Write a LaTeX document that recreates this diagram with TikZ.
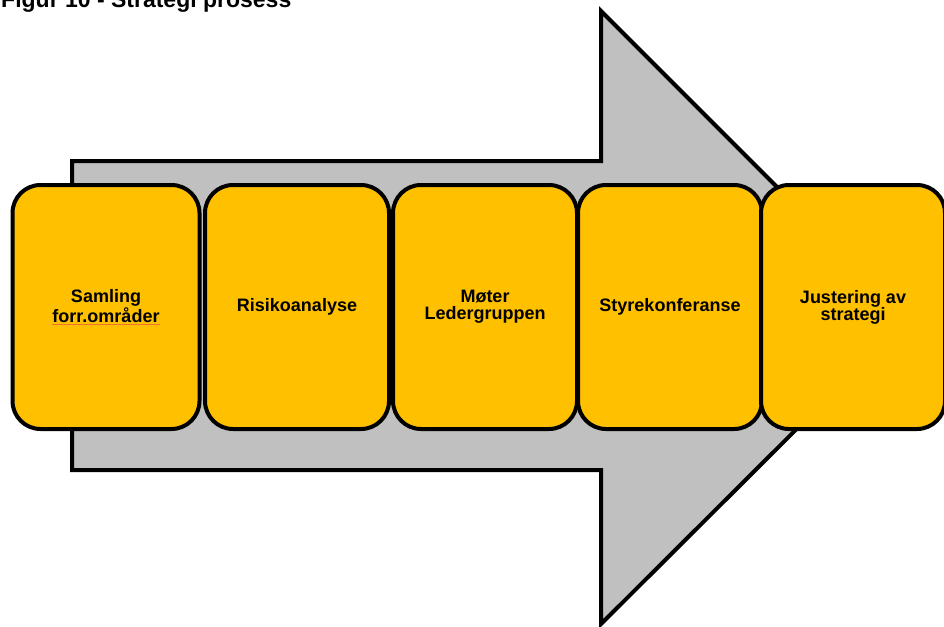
\documentclass[tikz,border=0pt]{standalone}
\usepackage{fontspec}
\setmainfont{Liberation Sans}
\definecolor{stepfill}{HTML}{FFC000}
\definecolor{arrowfill}{HTML}{C0C0C0}
\definecolor{spellred}{HTML}{F07030}
\newcommand{\spellmark}[1]{{\color{spellred}\underline{\color{black}#1}}}
\begin{document}
\begin{tikzpicture}[x=1pt,y=-1pt,font=\bfseries\fontsize{18}{17}\selectfont,
  st/.style={draw,line width=4pt,rounded corners=28pt,fill=stepfill,minimum width=184pt,minimum height=244pt,align=center,inner sep=2pt}]
  \useasboundingbox (0,0) rectangle (944,626);
  \node[anchor=base west,inner sep=0pt,font=\bfseries\fontsize{23}{24}\selectfont] (title) at (1,8){Figur 10 - Strategi prosess};
  % grey process arrow
  \draw[line width=4pt,miter limit=10,fill=arrowfill] (72,161) -- (601,161) -- (601,11) -- (908,318) -- (601,624) -- (601,470) -- (72,470) -- cycle;
  % steps
  \node[st,minimum width=187pt] (s1) at (106,307){Samling\\\spellmark{forr.områder}};
  \node[st] (s2) at (297,307){Risikoanalyse};
  \node[st] (s3) at (485,307){Møter\\Ledergruppen};
  \node[st] (s4) at (670,307){Styrekonferanse};
  \node[st] (s5) at (853,307){Justering av\\strategi};
\end{tikzpicture}
\end{document}
